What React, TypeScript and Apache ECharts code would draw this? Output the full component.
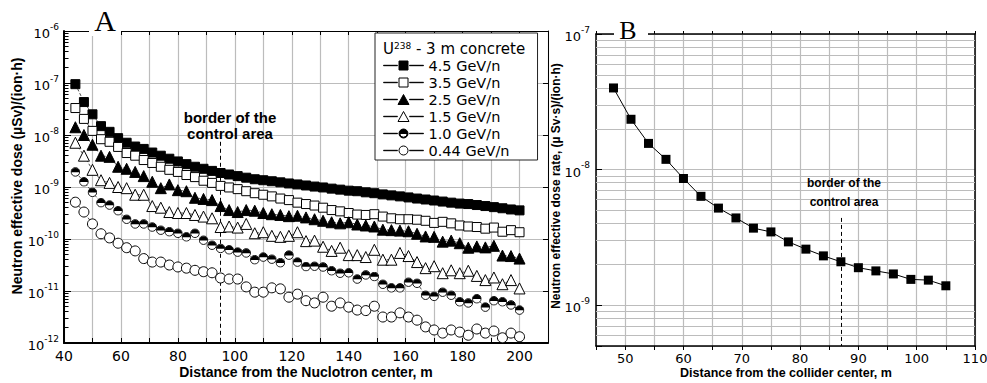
import React, { useEffect, useRef } from 'react';
import * as echarts from 'echarts';

// ---------- Panel A data ----------
const distanceA = [44, 47, 50, 53, 56, 59, 62, 65, 68, 71, 74, 77, 80, 83, 86, 89, 92, 95, 98, 101, 104, 107, 110, 113, 116, 119, 122, 125, 128, 131, 134, 137, 140, 143, 146, 149, 152, 155, 158, 161, 164, 167, 170, 173, 176, 179, 182, 185, 188, 191, 194, 197, 200];

const dose45 = [9.5e-8, 4.3e-8, 2.5e-8, 1.48e-8, 1.15e-8, 8.7e-9, 7.1e-9, 6.0e-9, 5.4e-9, 4.6e-9, 4.0e-9, 3.5e-9, 3.1e-9, 2.75e-9, 2.45e-9, 2.24e-9, 2.04e-9, 1.86e-9, 1.74e-9, 1.62e-9, 1.51e-9, 1.41e-9, 1.35e-9, 1.29e-9, 1.23e-9, 1.17e-9, 1.12e-9, 1.07e-9, 1.02e-9, 9.8e-10, 9.3e-10, 8.9e-10, 8.5e-10, 8.3e-10, 7.9e-10, 7.6e-10, 7.2e-10, 6.9e-10, 6.6e-10, 6.3e-10, 6.0e-10, 5.75e-10, 5.5e-10, 5.25e-10, 5.0e-10, 4.8e-10, 4.7e-10, 4.5e-10, 4.3e-10, 4.1e-10, 3.9e-10, 3.7e-10, 3.55e-10];

const dose35 = [3.3e-8, 2.04e-8, 1.2e-8, 8.3e-9, 7.4e-9, 5.9e-9, 4.5e-9, 4.0e-9, 3.3e-9, 2.9e-9, 2.45e-9, 2.14e-9, 1.95e-9, 1.7e-9, 1.55e-9, 1.32e-9, 1.2e-9, 1.05e-9, 9.8e-10, 9.1e-10, 8.3e-10, 7.6e-10, 7.1e-10, 6.6e-10, 6.0e-10, 5.6e-10, 5.0e-10, 4.7e-10, 4.4e-10, 4.0e-10, 3.6e-10, 3.4e-10, 3.16e-10, 2.95e-10, 2.9e-10, 3.0e-10, 2.7e-10, 2.5e-10, 2.4e-10, 2.4e-10, 2.35e-10, 2.24e-10, 2.04e-10, 2.14e-10, 2.0e-10, 1.82e-10, 1.74e-10, 1.7e-10, 1.58e-10, 1.66e-10, 1.38e-10, 1.48e-10, 1.35e-10];

const dose25 = [1.41e-8, 1.0e-8, 6.5e-9, 4.0e-9, 3.8e-9, 2.45e-9, 2.24e-9, 1.95e-9, 1.62e-9, 1.26e-9, 9.5e-10, 1.12e-9, 8.7e-10, 8.3e-10, 6.2e-10, 5.9e-10, 5.6e-10, 4.3e-10, 3.6e-10, 3.3e-10, 3.6e-10, 3.5e-10, 3.16e-10, 3.0e-10, 2.9e-10, 2.75e-10, 2.8e-10, 2.6e-10, 2.4e-10, 2.24e-10, 2.1e-10, 2.0e-10, 2.1e-10, 1.9e-10, 1.82e-10, 1.74e-10, 1.51e-10, 1.48e-10, 1.45e-10, 1.41e-10, 1.26e-10, 1.12e-10, 1.1e-10, 8.9e-11, 9.3e-11, 8.3e-11, 6.8e-11, 7.2e-11, 6.9e-11, 7.4e-11, 4.8e-11, 4.7e-11, 4.2e-11];

const dose15 = [7.1e-9, 4.0e-9, 2.14e-9, 1.35e-9, 1.2e-9, 1.0e-9, 9.5e-10, 7.1e-10, 7.1e-10, 4.3e-10, 4.0e-10, 3.3e-10, 3.16e-10, 3.16e-10, 2.9e-10, 2.7e-10, 2.5e-10, 1.7e-10, 1.74e-10, 1.66e-10, 1.95e-10, 1.29e-10, 1.35e-10, 1.15e-10, 1.1e-10, 1.15e-10, 1.35e-10, 9.1e-11, 9.3e-11, 7.1e-11, 5.9e-11, 6.8e-11, 4.9e-11, 4.9e-11, 4.5e-11, 6.2e-11, 4.0e-11, 4.0e-11, 5.4e-11, 4.7e-11, 3.6e-11, 2.75e-11, 3.0e-11, 2.2e-11, 2.5e-11, 2.2e-11, 2.45e-11, 1.95e-11, 1.62e-11, 1.82e-11, 1.35e-11, 1.62e-11, 1.12e-11];

const dose10 = [1.95e-9, 1.26e-9, 7.9e-10, 5.0e-10, 4.5e-10, 3.5e-10, 2.4e-10, 1.95e-10, 1.95e-10, 1.7e-10, 1.48e-10, 1.38e-10, 1.29e-10, 1.1e-10, 1.29e-10, 9.5e-11, 7.6e-11, 6.6e-11, 6.2e-11, 5.6e-11, 5.4e-11, 4.0e-11, 4.5e-11, 4.1e-11, 3.5e-11, 4.9e-11, 3.6e-11, 2.95e-11, 3.0e-11, 2.9e-11, 2.45e-11, 2.2e-11, 2.24e-11, 1.7e-11, 2.04e-11, 1.9e-11, 1.35e-11, 1.15e-11, 1.15e-11, 1.48e-11, 1.41e-11, 8.3e-12, 7.9e-12, 9.5e-12, 8.3e-12, 6.2e-12, 5.9e-12, 7.1e-12, 4.9e-12, 6.5e-12, 6.2e-12, 5.4e-12, 4.3e-12];

const dose044 = [5.1e-10, 3.3e-10, 1.95e-10, 1.26e-10, 1.05e-10, 8.3e-11, 6.8e-11, 5.9e-11, 4.2e-11, 3.6e-11, 3.6e-11, 3.16e-11, 2.9e-11, 2.75e-11, 2.5e-11, 2.35e-11, 2.24e-11, 1.78e-11, 1.7e-11, 1.7e-11, 1.2e-11, 9.5e-12, 9.5e-12, 1.15e-11, 1.1e-11, 7.6e-12, 8.7e-12, 6.5e-12, 5.9e-12, 7.6e-12, 5.1e-12, 5.9e-12, 4.9e-12, 4.3e-12, 4.2e-12, 5.1e-12, 3.16e-12, 3.16e-12, 3.8e-12, 3.16e-12, 2.75e-12, 2.04e-12, 1.78e-12, 1.55e-12, 1.78e-12, 1.62e-12, 1.41e-12, 1.86e-12, 1.55e-12, 1.7e-12, 1.26e-12, 1.55e-12, 1.32e-12];

const seriesNamesA = ['4.5 GeV/n', '3.5 GeV/n', '2.5 GeV/n', '1.5 GeV/n', '1.0 GeV/n', '0.44 GeV/n'];
const borderA = 95;

// ---------- Panel B data ----------
const distanceB = [48, 51, 54, 57, 60, 63, 66, 69, 72, 75, 78, 81, 84, 87, 90, 93, 96, 99, 102, 105];
const doseB = [4.0e-8, 2.35e-8, 1.56e-8, 1.19e-8, 8.6e-9, 6.35e-9, 5.2e-9, 4.4e-9, 3.7e-9, 3.47e-9, 2.93e-9, 2.59e-9, 2.31e-9, 2.09e-9, 1.89e-9, 1.79e-9, 1.7e-9, 1.55e-9, 1.53e-9, 1.39e-9];
const borderB = 87;

const minorMantissas = [2, 3, 4, 5, 6, 7, 8, 9];
const decadesA = [-12, -11, -10, -9, -8, -7];
const decadesB = [-10, -9, -8];

const SANS = 'Liberation Sans';
const DEJAVU = 'DejaVu Sans';
const SERIF = 'Liberation Serif';
const GRID_COLOR = '#bcbcbc';

const halfCircleSvg =
  "<svg xmlns='http://www.w3.org/2000/svg' width='20' height='20' viewBox='0 0 20 20'>" +
  "<circle cx='10' cy='10' r='8.6' fill='white' stroke='black' stroke-width='1.8'/>" +
  "<path d='M1.4 10.6 A8.6 8.6 0 0 1 18.6 10.6 Z' fill='black'/></svg>";
const halfCircleSymbol = 'image://data:image/svg+xml;charset=utf-8,' + encodeURIComponent(halfCircleSvg);

// legend icons: line - symbol - line, in a 40 x 10 box
const iconLines = 'M0 4.8 H14 V5.2 H0 Z M26 4.8 H40 V5.2 H26 Z ';
const legendIcons = [
  'path://' + iconLines + 'M15.5 0.5 H24.5 V9.5 H15.5 Z',
  'path://' + iconLines + 'M15.5 0.5 H24.5 V9.5 H15.5 Z',
  'path://' + iconLines + 'M20 0 L25.5 10 L14.5 10 Z',
  'path://' + iconLines + 'M20 0 L25.5 10 L14.5 10 Z',
  'path://' + iconLines + 'M15.5 5 A4.5 4.5 0 0 1 24.5 5 Z M15.5 5 A4.5 4.5 0 0 0 24.5 5 L23.7 5 A3.7 3.7 0 0 1 16.3 5 Z',
  'path://' + iconLines + 'M24.5 5 A4.5 4.5 0 1 1 15.5 5 A4.5 4.5 0 1 1 24.5 5 Z',
];

const pair = (xs: number[], ys: number[]) => xs.map((x, i) => [x, ys[i]]);

const pow10Label = (v: number) => {
  const e = Math.log10(v);
  const r = Math.round(e);
  return Math.abs(e - r) < 1e-6 ? `{b|10}{s|${r}}` : '';
};
const powRich = (size: number) => ({
  b: { fontSize: size, fontFamily: DEJAVU, color: '#000', padding: [5, 0, 0, 0] },
  s: { fontSize: size - 4, fontFamily: DEJAVU, color: '#000', verticalAlign: 'top' },
});

export default function App() {
  const ref = useRef<HTMLDivElement>(null);
  useEffect(() => {
    if (!ref.current) return;
    const chart = echarts.init(ref.current, undefined, { renderer: 'svg' });

    const lineA = { color: '#222', width: 0.8, type: [3, 2] as any };
    const symbolDefs = [
      { symbol: 'rect', symbolSize: 9, itemStyle: { color: '#000', borderColor: '#000', borderWidth: 1 } },
      { symbol: 'rect', symbolSize: 9, itemStyle: { color: '#fff', borderColor: '#000', borderWidth: 1 } },
      { symbol: 'triangle', symbolSize: 11, itemStyle: { color: '#000', borderColor: '#000', borderWidth: 1 } },
      { symbol: 'triangle', symbolSize: 11, itemStyle: { color: '#fff', borderColor: '#000', borderWidth: 1 } },
      { symbol: halfCircleSymbol, symbolSize: 10, itemStyle: { color: '#000', borderColor: '#000', borderWidth: 1 } },
      { symbol: 'circle', symbolSize: 10, itemStyle: { color: '#fff', borderColor: '#000', borderWidth: 1 } },
    ];
    const valuesA = [dose45, dose35, dose25, dose15, dose10, dose044];

    const minorTickLines = decadesA.flatMap((e) =>
      minorMantissas.map((m) => [
        { coord: [40, m * Math.pow(10, e)], lineStyle: { color: '#000', width: 1, type: 'solid' } },
        { coord: [41.6, m * Math.pow(10, e)] },
      ])
    );

    const seriesA = seriesNamesA.map((name, i) => ({
      type: 'line',
      name,
      xAxisIndex: 0,
      yAxisIndex: 0,
      data: pair(distanceA, valuesA[i]),
      symbol: symbolDefs[i].symbol,
      symbolSize: symbolDefs[i].symbolSize,
      itemStyle: symbolDefs[i].itemStyle,
      lineStyle: lineA,
      showAllSymbol: true,
      z: 3,
      markLine:
        i === 0
          ? {
              silent: true,
              z: 1,
              symbol: ['none', 'none'],
              label: { show: false },
              animation: false,
              data: [
                [
                  { coord: [borderA, 7.4e-9], lineStyle: { color: '#000', width: 1, type: [4, 3] } },
                  { coord: [borderA, 1e-12] },
                ],
                ...minorTickLines,
              ],
            }
          : undefined,
    }));

    const minorGridB = decadesB
      .flatMap((e) => minorMantissas.map((m) => m * Math.pow(10, e)))
      .filter((v) => v > 5.01e-10 && v < 1e-7)
      .map((v) => [
        { coord: [45, v], lineStyle: { color: GRID_COLOR, width: 1, type: 'solid' } },
        { coord: [110, v] },
      ]);

    const splitA = { show: true, lineStyle: { color: GRID_COLOR, width: 1.2, type: 'solid' } };

    const option: any = {
      animation: false,
      backgroundColor: '#fff',
      grid: [
        { left: 64, top: 31, width: 484, height: 312, show: false, outerBoundsMode: 'none' },
        { left: 596, top: 34, width: 379, height: 312, show: false, outerBoundsMode: 'none' },
      ],
      xAxis: [
        {
          type: 'value', gridIndex: 0, min: 40, max: 210, interval: 10, position: 'bottom',
          axisLine: { show: true, onZero: false, lineStyle: { color: '#000', width: 2 } },
          axisTick: { show: true, inside: true, length: 5, lineStyle: { color: '#000', width: 1 } },
          axisLabel: {
            fontFamily: DEJAVU, fontSize: 14, color: '#000', margin: 6,
            formatter: (v: number) => (v % 20 === 0 && v <= 200 ? String(v) : ''),
          },
          splitLine: splitA,
        },
        {
          type: 'value', gridIndex: 1, min: 45, max: 110, interval: 5, position: 'bottom',
          axisLine: { show: true, onZero: false, lineStyle: { color: '#000', width: 1.5 } },
          axisTick: { show: true, inside: false, length: 4, lineStyle: { color: '#000', width: 1 } },
          axisLabel: {
            fontFamily: DEJAVU, fontSize: 13, color: '#000', margin: 6,
            formatter: (v: number) => (v % 10 === 0 ? String(v) : ''),
          },
          splitLine: splitA,
        },
        {
          type: 'value', gridIndex: 0, min: 40, max: 210, interval: 10, position: 'top',
          axisLine: { show: true, onZero: false, lineStyle: { color: '#000', width: 1 } },
          axisTick: { show: true, inside: true, length: 4, lineStyle: { color: '#000', width: 1 } },
          axisLabel: { show: false },
          splitLine: { show: false },
        },
        {
          type: 'value', gridIndex: 1, min: 45, max: 110, interval: 5, position: 'top',
          axisLine: { show: true, onZero: false, lineStyle: { color: '#000', width: 1.5 } },
          axisTick: { show: true, inside: false, length: 3, lineStyle: { color: '#000', width: 1 } },
          axisLabel: { show: false },
          splitLine: { show: false },
        },
      ],
      yAxis: [
        {
          type: 'log', logBase: 10, gridIndex: 0, min: 1e-12, max: 1e-6, position: 'left',
          axisLine: { show: true, onZero: false, lineStyle: { color: '#000', width: 2 } },
          axisTick: { show: true, inside: true, length: 7, lineStyle: { color: '#000', width: 1 } },
          axisLabel: { formatter: pow10Label, rich: powRich(13), margin: 5 },
          splitLine: splitA,
        },
        {
          type: 'log', logBase: 10, gridIndex: 1, min: 5e-10, max: 1e-7, position: 'left',
          axisLine: { show: true, onZero: false, lineStyle: { color: '#000', width: 1.5 } },
          axisTick: { show: true, inside: true, length: 6, lineStyle: { color: '#000', width: 1 } },
          axisLabel: { formatter: pow10Label, rich: powRich(13), margin: 6 },
          splitLine: splitA,
        },
        {
          type: 'log', logBase: 10, gridIndex: 0, min: 1e-12, max: 1e-6, position: 'right',
          axisLine: { show: true, onZero: false, lineStyle: { color: '#000', width: 1 } },
          axisTick: { show: true, inside: true, length: 5, lineStyle: { color: '#000', width: 1 } },
          axisLabel: { show: false },
          splitLine: { show: false },
        },
        {
          type: 'log', logBase: 10, gridIndex: 1, min: 5e-10, max: 1e-7, position: 'right',
          axisLine: { show: true, onZero: false, lineStyle: { color: '#000', width: 1.5 } },
          axisTick: { show: false },
          axisLabel: { show: false },
          splitLine: { show: false },
        },
      ],
      legend: {
        data: seriesNamesA.map((name, i) => ({ name, icon: legendIcons[i] })),
        orient: 'vertical',
        left: 375,
        top: 33,
        padding: [24, 28, 1, 8],
        itemWidth: 40,
        itemHeight: 10,
        itemGap: 0,
        backgroundColor: '#fff',
        borderColor: '#222',
        borderWidth: 1,
        itemStyle: { borderWidth: 1 },
        textStyle: { fontFamily: DEJAVU, fontSize: 14.5, color: '#000', lineHeight: 17 },
        selectedMode: false,
      },
      series: [
        ...seriesA,
        {
          type: 'line',
          name: 'collider',
          xAxisIndex: 1,
          yAxisIndex: 1,
          data: pair(distanceB, doseB),
          symbol: 'rect',
          symbolSize: 9,
          itemStyle: { color: '#000' },
          lineStyle: { color: '#000', width: 1 },
          z: 3,
          markLine: {
            silent: true,
            z: 1,
            symbol: ['none', 'none'],
            label: { show: false },
            animation: false,
            data: [
              ...minorGridB,
              [
                { coord: [borderB, 4.4e-9], lineStyle: { color: '#000', width: 1, type: [4, 3] } },
                { coord: [borderB, 5e-10] },
              ],
            ],
          },
        },
      ],
      graphic: [
        { type: 'rect', z: 99, shape: { x: 89, y: 24, width: 32, height: 12 }, style: { fill: '#fff' } },
        { type: 'text', z: 100, x: 105, y: 20, style: { text: 'A', fontFamily: SERIF, fontSize: 30, fill: '#000', textAlign: 'center', textVerticalAlign: 'middle' } },
        { type: 'rect', z: 99, shape: { x: 614, y: 26, width: 34, height: 14 }, style: { fill: '#fff' } },
        { type: 'text', z: 100, x: 628, y: 30, style: { text: 'B', fontFamily: SERIF, fontSize: 26, fill: '#000', textAlign: 'center', textVerticalAlign: 'middle' } },
        {
          type: 'text', z: 100, x: 383, y: 49,
          style: {
            text: 'U{s|238} - 3 m concrete', fontFamily: DEJAVU, fontSize: 15, fill: '#000', textAlign: 'left', textVerticalAlign: 'middle',
            rich: { s: { fontSize: 9, fontFamily: DEJAVU, fill: '#000', verticalAlign: 'top', padding: [0, 0, 6, 0] } },
          },
        },
        {
          type: 'text', z: 100, x: 230, y: 125,
          style: { text: 'border of the\ncontrol area', fontFamily: SANS, fontWeight: 'bold', fontSize: 15, lineHeight: 16, fill: '#000', textAlign: 'center', textVerticalAlign: 'middle' },
        },
        {
          type: 'text', z: 100, x: 844, y: 192,
          style: { text: 'border of the\ncontrol area', fontFamily: SANS, fontWeight: 'bold', fontSize: 12, lineHeight: 19, fill: '#000', textAlign: 'center', textVerticalAlign: 'middle' },
        },
        {
          type: 'text', z: 100, x: 306, y: 372,
          style: { text: 'Distance from the Nuclotron center, m', fontFamily: SANS, fontWeight: 'bold', fontSize: 14, fill: '#000', textAlign: 'center', textVerticalAlign: 'middle' },
        },
        {
          type: 'text', z: 100, x: 786, y: 373,
          style: { text: 'Distance from the collider center, m', fontFamily: SANS, fontWeight: 'bold', fontSize: 12.5, fill: '#000', textAlign: 'center', textVerticalAlign: 'middle' },
        },
        {
          type: 'text', z: 100, x: 17, y: 176, rotation: Math.PI / 2,
          style: { text: 'Neutron effective dose (µSv)/(ion·h)', fontFamily: SANS, fontWeight: 'bold', fontSize: 14, fill: '#000', textAlign: 'center', textVerticalAlign: 'middle' },
        },
        {
          type: 'text', z: 100, x: 556, y: 186, rotation: Math.PI / 2,
          style: { text: 'Neutron effective dose rate, (µ Sv·s)/(ion·h)', fontFamily: SANS, fontWeight: 'bold', fontSize: 12, fill: '#000', textAlign: 'center', textVerticalAlign: 'middle' },
        },
      ],
    };

    chart.setOption(option);
    return () => chart.dispose();
  }, []);

  return <div ref={ref} style={{ position: 'fixed', left: 0, top: 0, width: 987, height: 383, background: '#fff' }} />;
}
